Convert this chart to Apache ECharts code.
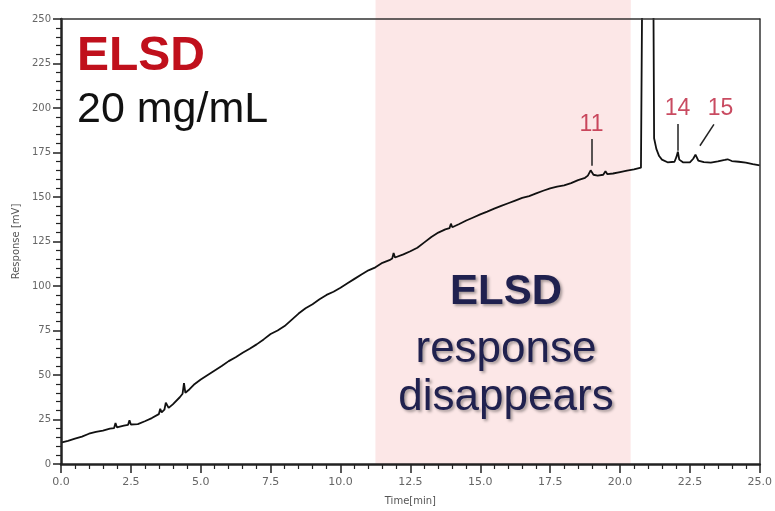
<!DOCTYPE html>
<html>
<head>
<meta charset="utf-8">
<script src="https://cdn.jsdelivr.net/npm/echarts@6/dist/echarts.min.js"></script>
<style>
html,body{margin:0;padding:0;background:#fff;}
#c{width:775px;height:511px;}
</style>
</head>
<body>
<div id="c"></div>
<script>
// ---- data ----
const times = [
  0,0.25,0.5,0.75,1.0,1.25,1.5,1.75,1.9,1.95,
  2.0,2.25,2.4,2.45,2.5,2.75,3.0,3.25,3.5,3.55,
  3.6,3.7,3.75,3.85,4.0,4.25,4.35,4.4,4.45,4.6,
  4.75,5.0,5.25,5.5,5.75,6.0,6.25,6.5,6.75,7.0,
  7.25,7.5,7.75,8.0,8.25,8.5,8.75,9.0,9.25,9.5,
  9.75,10.0,10.25,10.5,10.75,11.0,11.25,11.5,11.75,11.85,
  11.9,11.95,12.25,12.5,12.75,13.0,13.25,13.5,13.75,13.9,
  13.95,14.0,14.25,14.5,14.75,15.0,15.25,15.5,15.75,16.0,
  16.25,16.5,16.75,17.0,17.25,17.5,17.75,18.0,18.25,18.5,
  18.75,18.85,18.95,19.05,19.2,19.4,19.48,19.55,19.75,20.0,
  20.25,20.5,20.75,20.8,21.0,21.19,21.22,21.3,21.4,21.5,
  21.7,21.95,22.02,22.07,22.12,22.25,22.5,22.62,22.7,22.8,
  23.0,23.25,23.5,23.75,23.85,24.0,24.25,24.5,24.75,25.0
];
const response = [
  12.0,13.0,14.2,15.4,17.0,18.0,18.8,19.9,20.2,23.0,
  20.6,21.5,22.0,24.5,22.2,22.4,24.0,25.8,28.0,31.0,
  29.0,30.5,34.5,31.5,33.5,37.5,39.5,45.5,40.0,42.0,
  44.5,47.5,50.0,52.5,55.0,57.8,60.0,62.5,64.8,67.2,
  70.0,73.0,75.0,77.5,81.0,84.5,87.5,89.8,92.5,95.0,
  96.8,99.0,101.5,104.0,106.5,108.8,110.5,113.0,114.5,115.5,
  118.5,116.0,117.8,119.5,121.5,124.5,127.5,130.0,131.8,132.5,
  135.0,133.0,134.8,136.8,138.5,140.2,141.8,143.5,145.0,146.5,
  148.0,149.5,150.5,152.0,153.5,154.8,155.8,156.5,157.8,159.5,
  160.8,162.0,165.0,162.5,162.0,162.5,164.5,162.8,163.2,164.0,
  164.8,165.5,166.5,280,320,280,183,177,173,171,
  169.5,169.8,172.5,175.5,171.0,169.5,169.4,171.5,173.8,170.5,
  169.6,169.3,170.0,170.8,171.2,170.2,169.8,169.3,168.5,167.8
];
const xTicks = [0,2.5,5,7.5,10,12.5,15,17.5,20,22.5,25];
const yTicks = [0,25,50,75,100,125,150,175,200,225,250];
const shadedRange = [11.25, 20.38];
const peakNames = ['11','14','15'];
const peakLabelTime = [18.98, 22.06, 23.6];
const peakLabelValue = [190.5, 199.5, 199.5];
const leaderStart = [[18.98,182.6],[22.07,191.0],[23.36,190.8]];
const leaderEnd = [[18.98,167.6],[22.07,176.0],[22.86,178.8]];

// ---- chart ----
const chart = echarts.init(document.getElementById('c'), null, {renderer:'canvas'});
const lineData = times.map((t,i)=>[t,response[i]]);
const labelData = peakNames.map((n,i)=>({value:[peakLabelTime[i], peakLabelValue[i]], name:n}));
const leaderData = leaderStart.map((s,i)=>[{coord:s},{coord:leaderEnd[i]}]);
const tickFont = 'DejaVu Sans';
const shadow = {textShadowColor:'rgba(0,0,0,0.35)', textShadowBlur:3, textShadowOffsetX:2, textShadowOffsetY:2};

const option = {
  animation:false,
  grid:[
    {left:61, right:15, top:19, bottom:43},
    {left:61, right:15, top:0, height:19}
  ],
  xAxis:[
    {gridIndex:0, type:'value', min:xTicks[0], max:xTicks[xTicks.length-1], interval:xTicks[1]-xTicks[0],
     position:'bottom', z:5,
     axisLine:{show:true, onZero:false, lineStyle:{color:'#222', width:2.5}},
     axisTick:{show:true, length:9, lineStyle:{color:'#222', width:1.5}},
     minorTick:{show:true, splitNumber:5, length:5, lineStyle:{color:'#222', width:1.2}},
     splitLine:{show:false},
     axisLabel:{formatter:v=>v.toFixed(1), fontFamily:tickFont, fontSize:11, color:'#666', margin:13},
     name:'Time[min]', nameLocation:'middle', nameGap:32,
     nameTextStyle:{fontFamily:tickFont, fontSize:10, color:'#555'}},
    {gridIndex:0, type:'value', min:0, max:25, position:'top', z:5,
     axisLine:{show:true, onZero:false, lineStyle:{color:'#333', width:1.5}},
     axisTick:{show:false}, axisLabel:{show:false}, splitLine:{show:false}},
    {gridIndex:1, type:'value', min:0, max:25, show:false}
  ],
  yAxis:[
    {gridIndex:0, type:'value', min:yTicks[0], max:yTicks[yTicks.length-1], interval:yTicks[1]-yTicks[0],
     position:'left', z:5,
     axisLine:{show:true, onZero:false, lineStyle:{color:'#222', width:2.5}},
     axisTick:{show:true, length:8, lineStyle:{color:'#222', width:1.5}},
     minorTick:{show:true, splitNumber:5, length:5, lineStyle:{color:'#222', width:1.2}},
     splitLine:{show:false},
     axisLabel:{fontFamily:tickFont, fontSize:10, color:'#666', margin:10},
     name:'Response [mV]', nameLocation:'middle', nameGap:36,
     nameTextStyle:{fontFamily:tickFont, fontSize:10, color:'#555'}},
    {gridIndex:0, type:'value', min:0, max:250, position:'right', z:5,
     axisLine:{show:true, onZero:false, lineStyle:{color:'#333', width:1.5}},
     axisTick:{show:false}, axisLabel:{show:false}, splitLine:{show:false}},
    {gridIndex:1, type:'value', min:0, max:1, show:false}
  ],
  series:[
    {type:'line', xAxisIndex:0, yAxisIndex:0, z:1, data:[[0,0]], symbol:'none',
     lineStyle:{opacity:0}, silent:true,
     markArea:{silent:true, itemStyle:{color:'#fce7e7'},
       data:[[{xAxis:shadedRange[0]},{xAxis:shadedRange[1]}]]}},
    {type:'line', xAxisIndex:2, yAxisIndex:2, z:1, data:[[0,0]], symbol:'none',
     lineStyle:{opacity:0}, silent:true,
     markArea:{silent:true, itemStyle:{color:'#fce7e7'},
       data:[[{xAxis:shadedRange[0]},{xAxis:shadedRange[1]}]]}},
    {type:'line', xAxisIndex:0, yAxisIndex:0, z:3, data:lineData, symbol:'none', showSymbol:false,
     clip:true, lineStyle:{color:'#111', width:1.8},
     markLine:{silent:true, symbol:['none','none'], label:{show:false},
       lineStyle:{color:'#222', width:1.5, type:'solid'}, data:leaderData}},
    {type:'scatter', xAxisIndex:0, yAxisIndex:0, z:6, symbolSize:1, itemStyle:{color:'rgba(0,0,0,0)'},
     data:labelData, silent:true,
     label:{show:true, position:'inside', formatter:'{b}',
       fontFamily:'Liberation Sans', fontSize:23, color:'#bb1e3a'}}
  ],
  graphic:[
    {type:'text', x:77, y:57, z:10, style:{text:'ELSD', font:'bold 48px "Liberation Sans"', fill:'#c0101c', align:'left', verticalAlign:'middle'}},
    {type:'text', x:77, y:110, z:10, style:{text:'20 mg/mL', font:'43px "Liberation Sans"', fill:'#111', align:'left', verticalAlign:'middle'}},
    {type:'text', x:506, y:292, z:10, style:Object.assign({text:'ELSD', font:'bold 42px "Liberation Sans"', fill:'#20214f', align:'center', verticalAlign:'middle'}, shadow)},
    {type:'text', x:506, y:350, z:10, style:Object.assign({text:'response', font:'44px "Liberation Sans"', fill:'#20214f', align:'center', verticalAlign:'middle'}, shadow)},
    {type:'text', x:506, y:398, z:10, style:Object.assign({text:'disappears', font:'44px "Liberation Sans"', fill:'#20214f', align:'center', verticalAlign:'middle'}, shadow)}
  ]
};
chart.setOption(option);
</script>
</body>
</html>
